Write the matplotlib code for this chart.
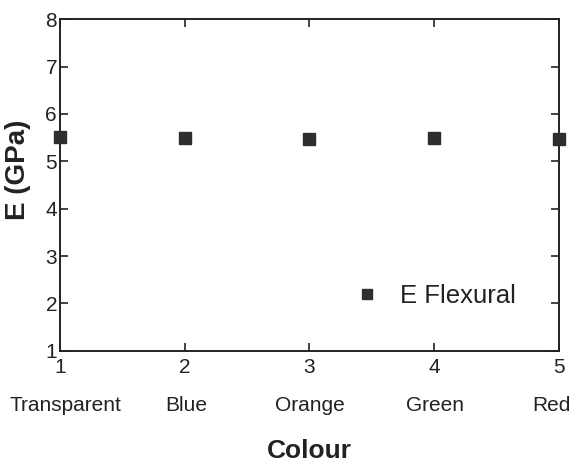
import matplotlib.pyplot as plt
import matplotlib.transforms as mtransforms
import numpy as np

plt.rcParams['font.family'] = ['Liberation Sans', 'DejaVu Sans']

# dados
posicao = [1, 2, 3, 4, 5]
cores = ['Transparent', 'Blue', 'Orange', 'Green', 'Red']
E_flexural = [5.51, 5.49, 5.48, 5.49, 5.48]

fig = plt.figure(figsize=(5.75, 4.66), dpi=100)
ax = fig.add_axes([0.104, 0.247, 0.868, 0.712])

ax.plot(posicao, E_flexural, 's', color='#2e2e2e', markersize=9, clip_on=False,
        zorder=5, label='E Flexural')

ax.set_xlim(1, 5)
ax.set_ylim(1, 8)
ax.set_xticks(posicao)
ax.set_yticks(np.arange(1, 9))
ax.tick_params(direction='in', length=6, width=1.2, labelsize=15, top=True, right=True,
               colors='#222222')
ax.tick_params(axis='x', pad=5)
ax.tick_params(axis='y', pad=2)
for s in ax.spines.values():
    s.set_linewidth(1.4)
    s.set_color('#222222')

# nomes das cores embaixo dos números (os das pontas empurrados pra dentro)
trans = mtransforms.blended_transform_factory(ax.transData, ax.transAxes)
desloc = [6, 2, 1, 1, -7]
for x, nome, dx in zip(posicao, cores, desloc):
    ax.annotate(nome, (x, -0.165), xycoords=trans, xytext=(dx, 0), textcoords='offset pixels',
                ha='center', va='center', fontsize=15, color='#222222')

ax.set_xlabel('Colour', fontsize=19, fontweight='bold', color='#222222')
ax.xaxis.set_label_coords(0.5, -0.265)
ax.set_ylabel('E (GPa)', fontsize=20, fontweight='bold', color='#222222')
ax.yaxis.set_label_coords(-0.058, 0.545)

ax.legend(loc='center left', bbox_to_anchor=(0.543, 0.166), frameon=False, fontsize=18.5,
          handlelength=1.0, handletextpad=0.8, markerscale=0.8, labelcolor='#222222')

plt.savefig('out.png', dpi=100)
